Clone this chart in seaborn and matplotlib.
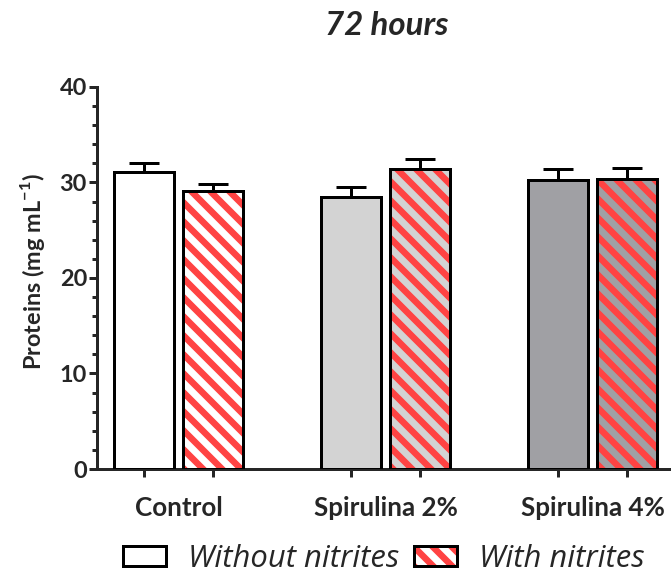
import numpy as np
import pandas as pd
import matplotlib
matplotlib.use("Agg")
import matplotlib.pyplot as plt
import seaborn as sns
from matplotlib.patches import Patch
from matplotlib.legend_handler import HandlerTuple
from matplotlib.ticker import MultipleLocator

# data (mean + SEM)
groups = ["Control", "Spirulina 2%", "Spirulina 4%"]
treatments = ["Without nitrites", "With nitrites"]
without_mean = [31.1, 28.5, 30.3]
with_mean = [29.1, 31.4, 30.4]
without_sem = [0.9, 1.0, 1.1]
with_sem = [0.7, 1.1, 1.1]

bar_fill = ["#ffffff", "#d3d3d3", "#a0a0a4"]
stripe = "#ff4343"

df = pd.DataFrame({
    "Group": groups * 2,
    "Treatment": [treatments[0]] * 3 + [treatments[1]] * 3,
    "Protein": without_mean + with_mean,
})
sems = [without_sem, with_sem]

DPI = 114  # hatch spacing follows dpi; 114 gives ~19 px stripe period


def pt(px):
    # pixel size -> points at the output dpi
    return px * 72 / DPI


sns.set_style("ticks")
plt.rcParams["font.family"] = ["Lato", "DejaVu Sans"]
plt.rcParams["mathtext.fontset"] = "custom"
plt.rcParams["mathtext.rm"] = "Lato"
plt.rcParams["mathtext.bf"] = "Lato:bold"
plt.rcParams["hatch.linewidth"] = pt(6.5)
lw = pt(3)
hatch = "\\\\"

fig = plt.figure(figsize=(671 / DPI, 573 / DPI), dpi=DPI)
ax = fig.add_axes([0.1446, 0.1815, 0.8554, 0.6667])

# filled bars
sns.barplot(data=df, x="Group", y="Protein", hue="Treatment",
            order=groups, hue_order=treatments, width=0.667, gap=0.13,
            errorbar=None, palette=["white", "white"], linewidth=0,
            legend=False, ax=ax, zorder=2)

for h in range(2):
    for i, bar in enumerate(ax.containers[h]):
        bar.set_facecolor(bar_fill[i])
        if h == 1:
            bar.set_hatch(hatch)
            bar.set_edgecolor(stripe)
            bar.set_linewidth(0)

# black outlines on top
sns.barplot(data=df, x="Group", y="Protein", hue="Treatment",
            order=groups, hue_order=treatments, width=0.667, gap=0.13,
            errorbar=None, palette=["black", "black"], fill=False,
            linewidth=lw, legend=False, ax=ax, zorder=3)

# upper error bars only
centers = []
for h in range(2):
    cont = ax.containers[h]
    xs = [b.get_x() + b.get_width() / 2 for b in cont]
    ys = [b.get_height() for b in cont]
    centers += xs
    ax.errorbar(xs, ys, yerr=[np.zeros(len(ys)), sems[h]], fmt="none",
                ecolor="black", elinewidth=lw, capsize=pt(15), capthick=lw,
                zorder=1)

ax.set_ylim(0, 40)
ax.set_xlim(-0.396, 2.379)
ax.yaxis.set_major_locator(MultipleLocator(10))
ax.yaxis.set_minor_locator(MultipleLocator(2))
ax.set_xticks(range(3), labels=groups)
ax.set_xticks(sorted(centers), minor=True)

ax.tick_params(axis="y", which="major", length=pt(8), width=lw,
               labelsize=pt(23.5), pad=pt(2))
ax.tick_params(axis="y", which="minor", length=pt(5), width=lw)
ax.tick_params(axis="x", which="major", length=0, labelsize=pt(26), pad=pt(27))
ax.tick_params(axis="x", which="minor", length=pt(8), width=lw)
for lab in ax.get_xticklabels() + ax.get_yticklabels():
    lab.set_fontweight("bold")

sns.despine(ax=ax)
for s in ["left", "bottom"]:
    ax.spines[s].set_linewidth(lw)

ax.set_xlabel("")
ax.set_ylabel(r"Proteins (mg mL$^{\mathbf{-1}}$)", fontsize=pt(23.5),
              fontweight="bold")
ax.yaxis.set_label_coords(-0.087, 0.518)

fig.text(0.577, 0.955, "72 hours", ha="center", va="center", fontsize=pt(33),
         fontweight="bold", fontstyle="italic")

# legend
h_without = Patch(facecolor="white", edgecolor="black", linewidth=lw)
h_with = (Patch(facecolor="white", edgecolor=stripe, hatch=hatch, linewidth=0),
          Patch(facecolor="none", edgecolor="black", linewidth=lw))
fig.legend([h_without, h_with], treatments, loc="center",
           bbox_to_anchor=(0.572, 0.024), ncol=2, frameon=False,
           handler_map={tuple: HandlerTuple(ndivide=1, pad=0)},
           prop={"family": "Open Sans", "style": "italic", "size": pt(31)},
           handlelength=1.4, handleheight=0.62, handletextpad=0.72,
           columnspacing=0.45)

fig.savefig("out.png", dpi=DPI)
